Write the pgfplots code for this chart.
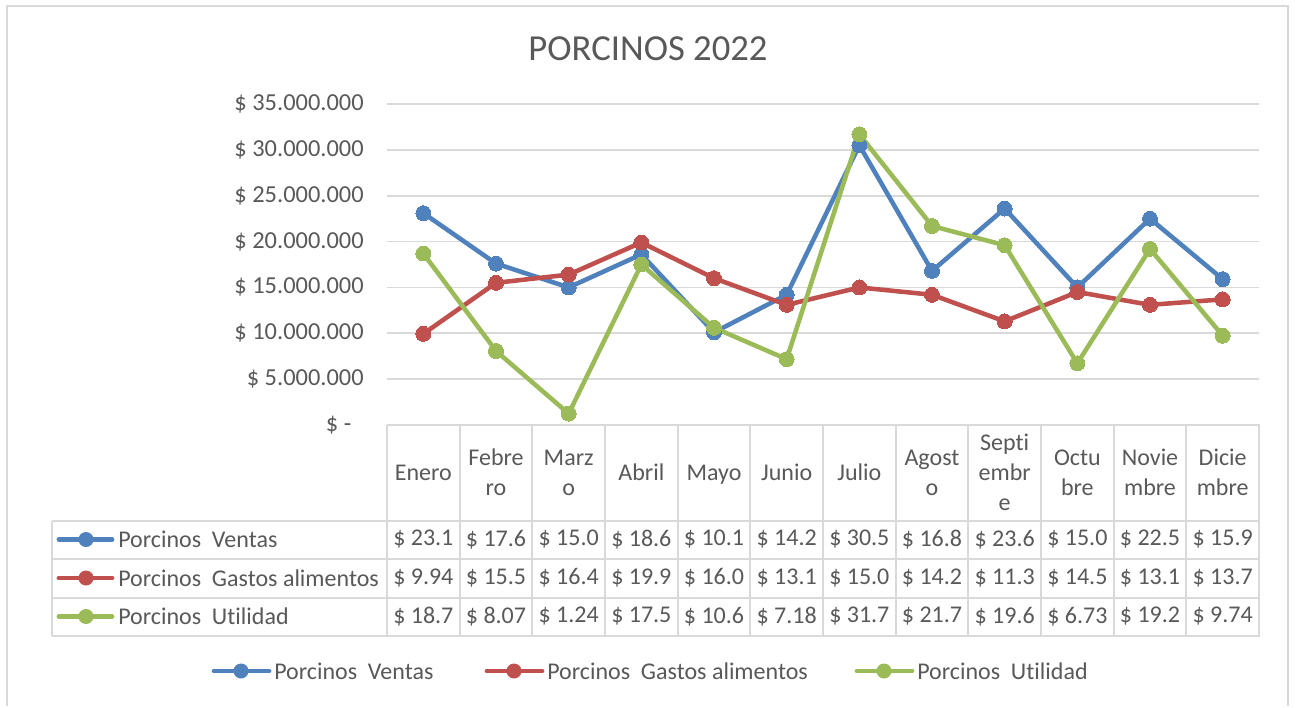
\documentclass[border=0pt]{standalone}
\usepackage{pgfplots}
\pgfplotsset{compat=1.18}
\usepackage{fontspec}
\setmainfont[RawFeature={-liga;-clig;-calt;-dlig}]{Carlito}
\definecolor{txt}{HTML}{595959}
\definecolor{grd}{HTML}{D9D9D9}
\definecolor{cV}{HTML}{4F81BD}
\definecolor{cG}{HTML}{C0504D}
\definecolor{cU}{HTML}{9BBB59}
\newcommand{\fs}{\fontsize{18}{22.5}\selectfont}
\begin{document}
\begin{tikzpicture}
% background and border
\begin{scope}[x=0.75pt,y=-0.75pt]
\path[fill=white] (0,0) rectangle (1296,706);
\draw[grd, line width=1.5pt] (7,706) -- (7,6) -- (1288,6) -- (1288,706);
\node[txt, font=\fontsize{27.5}{33}\selectfont] at (648,49) {PORCINOS 2022};
\end{scope}
\begin{axis}[
  at={(290.25pt,-318.75pt)}, anchor=south west,
  scale only axis, width=654pt, height=240.75pt,
  xmin=-0.5, xmax=11.5, ymin=0, ymax=35,
  xtick=\empty,
  ytick={0,5,10,15,20,25,30,35},
  yticklabels={\$ -\hphantom{0},\$ 5.000.000,\$ 10.000.000,\$ 15.000.000,\$ 20.000.000,\$ 25.000.000,\$ 30.000.000,\$ 35.000.000},
  yticklabel style={font=\fontsize{18.3}{22.5}\selectfont, text=txt, xshift=-14pt},
  ymajorgrids, grid style={grd, line width=1.2pt},
  axis line style={draw=none}, major tick length=0pt,
  clip=false,
]
\addplot[cV, line width=3.4pt, mark=*, mark size=5.6pt, mark options={solid, fill=cV, draw=cV, line width=0pt}] coordinates {
(0,23.1)(1,17.6)(2,15.0)(3,18.6)(4,10.1)(5,14.2)(6,30.5)(7,16.8)(8,23.6)(9,15.0)(10,22.5)(11,15.9)};
\addplot[cG, line width=3.4pt, mark=*, mark size=5.6pt, mark options={solid, fill=cG, draw=cG, line width=0pt}] coordinates {
(0,9.94)(1,15.5)(2,16.4)(3,19.9)(4,16.0)(5,13.1)(6,15.0)(7,14.2)(8,11.3)(9,14.5)(10,13.1)(11,13.7)};
\addplot[cU, line width=3.4pt, mark=*, mark size=5.6pt, mark options={solid, fill=cU, draw=cU, line width=0pt}] coordinates {
(0,18.7)(1,8.07)(2,1.24)(3,17.5)(4,10.6)(5,7.18)(6,31.7)(7,21.7)(8,19.6)(9,6.73)(10,19.2)(11,9.74)};
\end{axis}
% data table
\begin{scope}[x=0.75pt,y=-0.75pt]
\def\cw{72.6667}
% horizontal lines
\draw[grd, line width=1.5pt] (387,425) -- (1259.5,425);
\draw[grd, line width=1.5pt] (52,520.5) -- (1259.5,520.5);
\draw[grd, line width=1.5pt] (52,559) -- (1259.5,559);
\draw[grd, line width=1.5pt] (52,597.5) -- (1259.5,597.5);
\draw[grd, line width=1.5pt] (52,635.5) -- (1259.5,635.5);
% vertical lines
\draw[grd, line width=1.5pt] (52,520.5) -- (52,635.5);
\foreach \i in {0,...,12} {
  \draw[grd, line width=1.5pt] ({387+\i*\cw},425) -- ({387+\i*\cw},635.5);
}
% headers
\foreach \i/\t in {0/Enero\strut,1/Febre\strut\\ro\strut,2/Marz\strut\\o\strut,3/Abril\strut,4/Mayo\strut,5/Junio\strut,6/Julio\strut,7/Agost\strut\\o\strut,8/Sept\kern0pt i\strut\\embr\strut\\e\strut,9/Octu\strut\\bre\strut,10/Novie\strut\\mbre\strut,11/Dicie\strut\\mbre\strut} {
  \node[txt, font=\fs, align=center, inner sep=0pt] at ({387+(\i+0.5)*\cw},474) {\t};
}
% values
\foreach \i/\v in {0/23.1,1/17.6,2/15.0,3/18.6,4/10.1,5/14.2,6/30.5,7/16.8,8/23.6,9/15.0,10/22.5,11/15.9} {
  \node[txt, font=\fs, inner sep=0pt] at ({387+(\i+0.5)*\cw},539.5) {\$ \v};
}
\foreach \i/\v in {0/9.94,1/15.5,2/16.4,3/19.9,4/16.0,5/13.1,6/15.0,7/14.2,8/11.3,9/14.5,10/13.1,11/13.7} {
  \node[txt, font=\fs, inner sep=0pt] at ({387+(\i+0.5)*\cw},578) {\$ \v};
}
\foreach \i/\v in {0/18.7,1/8.07,2/1.24,3/17.5,4/10.6,5/7.18,6/31.7,7/21.7,8/19.6,9/6.73,10/19.2,11/9.74} {
  \node[txt, font=\fs, inner sep=0pt] at ({387+(\i+0.5)*\cw},616.5) {\$ \v};
}
% row labels with legend keys
\foreach \y/\c/\t in {539.5/cV/Porcinos\ \ Ventas, 578/cG/Porcinos\ \ Gastos alimentos, 616.5/cU/Porcinos\ \ Ut\kern0pt ilidad} {
  \draw[\c, line width=3.6pt, line cap=round] (59,\y) -- (112,\y);
  \fill[\c] (86,\y) circle (7.5);
  \node[txt, font=\fs, anchor=west, inner sep=0pt] at (118,\y) {\t};
}
% legend
\foreach \x/\c/\t in {214/cV/Porcinos\ \ Ventas, 487/cG/Porcinos\ \ Gastos alimentos, 857/cU/Porcinos\ \ Ut\kern0pt ilidad} {
  \draw[\c, line width=3.6pt, line cap=round] (\x,671) -- ({\x+55},671);
  \fill[\c] ({\x+27},671) circle (7.5);
  \node[txt, font=\fs, anchor=west, inner sep=0pt] at ({\x+60},671) {\t};
}
\end{scope}
\end{tikzpicture}
\end{document}
